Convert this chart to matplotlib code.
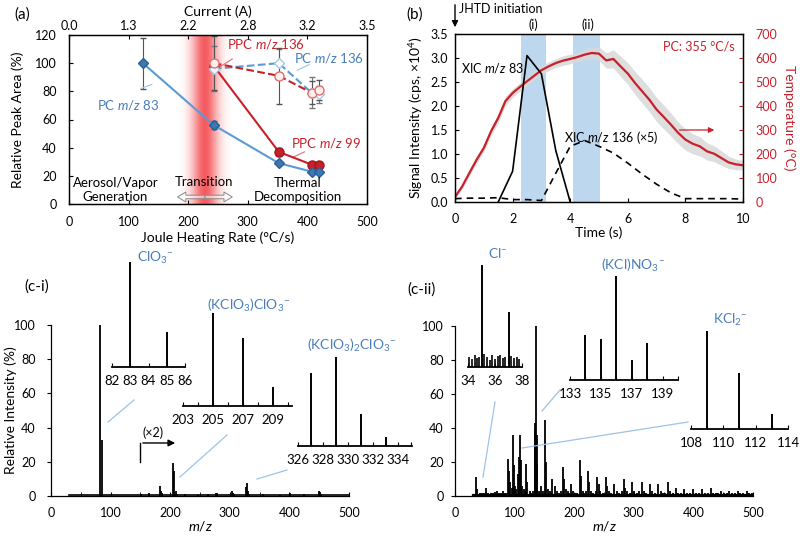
import numpy as np
import matplotlib.pyplot as plt
from matplotlib.patches import FancyArrow

plt.rcParams['font.family'] = ['Lato', 'DejaVu Sans']
plt.rcParams['font.size'] = 9
plt.rcParams['mathtext.fontset'] = 'custom'
plt.rcParams['mathtext.rm'] = 'Lato'
plt.rcParams['mathtext.it'] = 'Lato:italic'
plt.rcParams['mathtext.default'] = 'regular'
plt.rcParams['axes.linewidth'] = 0.9

# ---- (a) relative peak area vs Joule heating rate ----
rate_pc = [124, 243, 352, 407, 419]
pc83 = [100, 56, 29, 23, 22.5]
pc83_err = [18, 3, 1.5, 1, 1]
rate_ppc = [243, 352, 407, 419]
pc136 = [96, 100, 79, 78]
pc136_err = [16, 10, 11, 6]
ppc99 = [98, 37, 28, 27.5]
ppc99_err = [0, 3, 1.5, 1.5]
ppc136 = [100, 91, 79, 81]
ppc136_err = [19, 20, 8, 7]
rate_ticks = [0, 100, 200, 300, 400, 500]
current_labels = ['0.0', '1.3', '2.2', '2.8', '3.2', '3.5']

# ---- (b) XIC traces and temperature profile ----
t83 = [1.5, 2.0, 2.5, 3.0, 3.5, 4.0]
xic83 = [0, 0.64, 3.05, 2.67, 1.07, 0]
t136 = [0, 0.5, 1.0, 1.5, 2.0, 2.5, 3.0, 3.5, 4.0, 4.5, 5.0, 5.5, 6.0, 6.5,
        7.0, 7.5, 8.0, 8.5, 9.0, 9.5, 10.0]
xic136 = [0.07, 0.08, 0.08, 0.09, 0.05, 0.05, 0.03, 0.6, 1.16, 1.28, 1.16,
          1.02, 0.81, 0.58, 0.37, 0.19, 0.07, 0.07, 0.07, 0.07, 0.06]
t_temp = [0, 0.25, 0.5, 0.75, 1.0, 1.25, 1.5, 1.75, 2.0, 2.25, 2.5, 2.75,
          3.0, 3.25, 3.5, 3.75, 4.0, 4.25, 4.5, 4.75, 5.0, 5.25, 5.5, 5.75,
          6.0, 6.25, 6.5, 6.75, 7.0, 7.25, 7.5, 7.75, 8.0, 8.25, 8.5, 8.75,
          9.0, 9.25, 9.5, 9.75, 10.0]
temp = [21, 65, 121, 176, 225, 294, 350, 420, 454, 479, 503, 526,
        549, 565, 579, 589, 596, 604, 614, 621, 618, 590, 596, 565,
        535, 496, 461, 426, 385, 354, 322, 288, 260, 243, 232, 211,
        201, 183, 165, 157, 153]
temp_err = [8, 10, 12, 15, 15, 18, 20, 20, 18, 18, 18, 18, 18, 18, 18, 20,
            20, 20, 22, 25, 28, 32, 38, 42, 45, 48, 50, 50, 50, 50, 48, 45,
            44, 42, 40, 36, 33, 30, 26, 22, 20]

# ---- (c-i) spectrum at window (i) ----
mz_ci = [83, 85, 151, 165, 183, 185, 187, 205, 207, 209, 211, 225, 247,
         263, 277, 279, 303, 305, 307, 327, 329, 331, 333, 355, 385, 401,
         425, 449, 451, 453]
int_ci = [100, 33, 1, 1.5, 6, 3, 1.5, 19.5, 14.5, 3, 1, 1, 0.8,
          1, 2, 1.5, 3, 2, 1, 5, 7.5, 3, 1, 1, 0.8, 1.5,
          1, 3, 2.5, 1]
ins_clo3_mz = [83, 85]
ins_clo3_int = [1.0, 0.33]
ins_k1_mz = [205, 207, 209]
ins_k1_int = [1.0, 0.73, 0.2]
ins_k2_mz = [327, 329, 331, 333]
ins_k2_int = [0.82, 1.0, 0.36, 0.1]

# ---- (c-ii) spectrum at window (ii) ----
mz_cii = [35, 37, 52, 70, 80, 89, 91, 97, 99, 105, 107, 109, 111, 113, 119,
          121, 134, 135, 136, 137, 138, 145, 151, 153, 163, 167, 181, 183,
          195, 209, 211, 223, 225, 239, 241, 253, 255, 267, 283, 285, 297,
          313, 327, 341, 357, 371, 385, 399, 415, 429, 447, 460, 475, 490]
int_cii = [11, 4, 5, 3, 3, 22, 15, 36, 18, 13, 23, 36, 21, 6, 19,
           8, 43, 39, 100, 19, 36, 6, 45, 20, 10, 6, 17, 10,
           7, 21, 12, 15, 8, 11, 7, 11, 6, 7, 10, 5, 8,
           8, 7, 7, 8, 5, 4, 4, 4, 5, 3, 3, 3, 3]
mz_cii_minor = [42, 45, 48, 56, 60, 64, 67, 74, 77, 84, 87, 93, 95, 101, 103,
                115, 117, 125, 128, 131, 141, 143, 148, 156, 159, 161, 171,
                175, 178, 186, 189, 192, 198, 201, 205, 214, 217, 220, 228,
                232, 236, 244, 248, 258, 262, 271, 276, 280, 289, 293, 301,
                305, 309, 317, 321, 331, 335, 345, 349, 353, 361, 365, 375,
                380, 390, 394, 404, 409, 419, 424, 433, 438, 442, 451, 456,
                464, 469, 479, 484, 494, 498]
int_cii_minor = [2, 1.5, 2, 1.5, 2, 1.5, 2.5, 1.5, 2, 2, 1.5, 8, 5, 6, 4,
                 4, 3, 3, 2, 3, 3, 2, 3, 4, 3, 2, 3,
                 2, 3, 4, 3, 2, 3, 2, 2, 3, 2, 3, 3,
                 2, 3, 3, 2, 3, 2, 3, 2, 3, 3, 2, 3,
                 2, 3, 3, 2, 3, 2, 3, 2, 2, 3, 2, 2,
                 2, 2, 2, 2, 2, 2, 2, 2, 2, 2, 2, 2,
                 2, 2, 2, 2, 2, 2]
ins_cl_mz = [35, 37]
ins_cl_int = [1.0, 0.54]
ins_cl_noise_mz = [34.1, 34.3, 34.5, 34.7, 34.85, 35.2, 35.4, 35.6, 35.8,
                   36.0, 36.2, 36.4, 36.6, 36.75, 37.2, 37.4, 37.6, 37.8]
ins_cl_noise_int = [0.1, 0.08, 0.12, 0.09, 0.1, 0.13, 0.1, 0.07, 0.12,
                    0.08, 0.11, 0.12, 0.09, 0.1, 0.11, 0.09, 0.1, 0.08]
ins_no3_mz = [134, 135, 136, 137, 138]
ins_no3_int = [0.43, 0.39, 1.0, 0.19, 0.36]
ins_kcl2_mz = [109, 111, 113]
ins_kcl2_int = [1.0, 0.57, 0.15]

W, H = 800, 537
fig = plt.figure(figsize=(8, 5.37), dpi=100)

blue_line = '#5b9bd5'
blue_mark = '#3d78b5'
blue_txt = '#4a7ebb'
red = '#c8202a'
lead = '#9dc3e6'


def px_axes(left, right, bottom, top):
    return fig.add_axes([left / W, 1 - bottom / H, (right - left) / W,
                         (bottom - top) / H])


# ======================= panel (a) =======================
ax_a = px_axes(69, 367, 204, 35)
n = 300
gx = np.linspace(-1, 1, n)
band = np.zeros((1, n, 4))
band[..., 0] = 0.95
band[..., 1] = 0.25
band[..., 2] = 0.27
band[..., 3] = 0.85 * np.exp(-(gx / 0.5) ** 2)
ax_a.imshow(band, extent=[185, 272, 0, 120], aspect='auto', zorder=0)

ax_a.errorbar(rate_pc, pc83, yerr=pc83_err, fmt='none', ecolor='#555555',
              elinewidth=0.8, capsize=2, zorder=2)
ax_a.errorbar(rate_ppc, pc136, yerr=pc136_err, fmt='none', ecolor='#777777',
              elinewidth=0.8, capsize=2, zorder=2)
ax_a.errorbar(rate_ppc, ppc136, yerr=ppc136_err, fmt='none', ecolor='#555555',
              elinewidth=0.8, capsize=2, zorder=2)
ax_a.errorbar(rate_ppc, ppc99, yerr=ppc99_err, fmt='none', ecolor='#555555',
              elinewidth=0.8, capsize=2, zorder=2)

ax_a.plot(rate_ppc, ppc99, '-', color=red, lw=1.5, marker='o', ms=6.5,
          mfc=red, mec='#a01818', zorder=3)
ax_a.plot(rate_pc, pc83, '-', color=blue_line, lw=1.5, marker='D', ms=5.5,
          mfc=blue_mark, mec='#2d5f95', zorder=3)
ax_a.plot(rate_ppc, pc136, '--', color=blue_line, lw=1.5, marker='D',
          ms=5.5, mfc='white', mec='#a9c8e8', zorder=4)
ax_a.plot(rate_ppc, ppc136, '--', color=red, lw=1.5, marker='o', ms=6.5,
          mfc='#fff0f0', mec='#e07070', zorder=5)

ax_a.set_xlim(0, 500)
ax_a.set_ylim(0, 120)
ax_a.set_xticks(rate_ticks)
ax_a.set_yticks(range(0, 121, 20))
ax_a.tick_params(direction='in', length=3, pad=9)
ax_a.set_xlabel('Joule Heating Rate (°C/s)', fontsize=10, labelpad=2)
ax_a.set_ylabel('Relative Peak Area (%)', fontsize=10)
ax_a.yaxis.set_label_coords(-0.15, 0.5)

ax_top = ax_a.twiny()
ax_top.set_xlim(0, 500)
ax_top.set_xticks(rate_ticks)
ax_top.set_xticklabels(current_labels)
ax_top.tick_params(direction='in', length=3, pad=2)
ax_top.set_xlabel('Current (A)', fontsize=10, labelpad=3)

ax_a.text(99, 70, r'PC $\mathit{m/z}$ 83', color=blue_txt, ha='center',
          va='center', fontsize=9.5)
ax_a.plot([121, 139], [82, 85], color=lead, lw=0.8)
ax_a.text(331, 113.5, r'PPC $\mathit{m/z}$ 136', color=red, ha='center',
          va='center', fontsize=9.5)
ax_a.plot([252, 274], [97, 103], color='#e07070', lw=0.8)
ax_a.text(437, 103.5, r'PC $\mathit{m/z}$ 136', color=blue_txt, ha='center',
          va='center', fontsize=9.5)
ax_a.plot([383, 403], [95, 99], color=lead, lw=0.8)
ax_a.text(432, 43, r'PPC $\mathit{m/z}$ 99', color=red, ha='center',
          va='center', fontsize=9.5)
ax_a.plot([375, 395], [33, 37], color='#e07070', lw=0.8)

ax_a.text(78, 10, 'Aerosol/Vapor\nGeneration', ha='center', va='center',
          fontsize=9.5, linespacing=1.25)
ax_a.text(227, 15.6, 'Transition', ha='center', va='center', fontsize=9.5)
ax_a.text(384, 10, 'Thermal\nDecomposition', ha='center', va='center',
          fontsize=9.5, linespacing=1.25)
for x0, dx in [(228, -46), (228, 46)]:
    ax_a.add_patch(FancyArrow(x0, 5, dx, 0, width=2.5, head_width=7,
                              head_length=14, length_includes_head=True,
                              fc=(1, 1, 1, 0.55), ec='#8a8a8a', lw=0.7,
                              zorder=3))

# ======================= panel (b) =======================
ax_b = px_axes(455, 743, 202, 34)
ax_t = ax_b.twinx()
ax_b.set_zorder(ax_t.get_zorder() + 1)
ax_b.patch.set_visible(False)

ax_t.axvspan(2.3, 3.15, color='#bdd7ee', lw=0, zorder=0)
ax_t.axvspan(4.1, 5.05, color='#bdd7ee', lw=0, zorder=0)
lo = [v - e for v, e in zip(temp, temp_err)]
hi = [v + e for v, e in zip(temp, temp_err)]
ax_t.fill_between(t_temp, lo, hi, color='#d9d9d9', alpha=0.85, lw=0, zorder=1)
ax_t.plot(t_temp, temp, color=red, lw=1.6, zorder=2)
ax_t.set_ylim(0, 700)
ax_t.set_yticks(range(0, 701, 100))
ax_t.tick_params(direction='in', length=3, pad=9, colors=red)
ax_t.spines['right'].set_color('black')
ax_t.set_ylabel('Temperature (°C)', color=red, rotation=270, fontsize=10,
                labelpad=13)
ax_t.annotate('', xy=(9.1, 300), xytext=(7.7, 300),
              arrowprops=dict(arrowstyle='-|>', color=red, lw=0.9,
                              mutation_scale=8))

ax_b.plot(t83, xic83, '-', color='black', lw=1.2)
ax_b.plot(t136, xic136, '--', color='black', lw=1.2, dashes=(4, 3))
ax_b.set_xlim(0, 10)
ax_b.set_ylim(0, 3.5)
ax_b.set_xticks(range(0, 11, 2))
ax_b.set_yticks(np.arange(0, 3.51, 0.5))
ax_b.set_yticklabels(['%.1f' % v for v in np.arange(0, 3.51, 0.5)])
ax_b.tick_params(direction='in', length=3)
ax_b.tick_params(axis='x', pad=8)
ax_b.tick_params(axis='y', pad=5)
ax_b.set_xlabel('Time (s)', fontsize=10, labelpad=1)
ax_b.set_ylabel('Signal Intensity (cps, ×10$^4$)', fontsize=10, labelpad=4)
ax_b.text(0.2, 2.8, r'XIC $\mathit{m/z}$ 83', ha='left', va='center',
          fontsize=9)
ax_b.text(3.8, 1.35, r'XIC $\mathit{m/z}$ 136 (×5)', ha='left', va='center',
          fontsize=9)
ax_b.text(9.7, 3.23, 'PC: 355 °C/s', color=red, ha='right', va='center',
          fontsize=9)

# ======================= panel (c-i) =======================
ax_ci = px_axes(51, 349, 496, 325)
ax_ci.vlines(mz_ci, 0, int_ci, color='black', lw=1.3)
ax_ci.plot([30, 500], [0.5, 0.5], color='black', lw=1.2)
ax_ci.set_xlim(0, 500)
ax_ci.set_ylim(0, 100)
ax_ci.spines['top'].set_visible(False)
ax_ci.spines['right'].set_visible(False)
ax_ci.set_xticks(range(0, 501, 100))
ax_ci.set_xticks(range(0, 501, 50), minor=True)
ax_ci.set_yticks(range(0, 101, 20))
ax_ci.tick_params(axis='x', which='both', direction='in', length=3, pad=8)
ax_ci.tick_params(axis='y', direction='out', length=3, pad=8)
ax_ci.set_xlabel(r'$\mathit{m/z}$', fontsize=10, labelpad=0)
ax_ci.set_ylabel('Relative Intensity (%)', fontsize=10)
ax_ci.yaxis.set_label_coords(-0.115, 0.5)
ax_ci.plot([150, 150], [20, 31], color='black', lw=1)
ax_ci.annotate('', xy=(213, 31), xytext=(149.5, 31),
               arrowprops=dict(arrowstyle='-|>', color='black', lw=1,
                               mutation_scale=10))
ax_ci.text(172, 37, '(×2)', ha='center', va='center', fontsize=9)

# ======================= panel (c-ii) =======================
ax_cii = px_axes(455, 753, 496, 326)
ax_cii.vlines(mz_cii_minor, 0, int_cii_minor, color='black', lw=1.3)
ax_cii.vlines(mz_cii, 0, int_cii, color='black', lw=1.3)
ax_cii.plot([30, 500], [0.8, 0.8], color='black', lw=1.6)
ax_cii.set_xlim(0, 500)
ax_cii.set_ylim(0, 100)
ax_cii.spines['top'].set_visible(False)
ax_cii.spines['right'].set_visible(False)
ax_cii.set_xticks(range(0, 501, 100))
ax_cii.set_xticks(range(0, 501, 50), minor=True)
ax_cii.set_yticks(range(0, 101, 20))
ax_cii.tick_params(axis='x', which='both', direction='in', length=3, pad=8)
ax_cii.tick_params(axis='y', direction='out', length=3, pad=5)
ax_cii.set_xlabel(r'$\mathit{m/z}$', fontsize=10, labelpad=0)


# ======================= insets =======================
def inset(left, right, base, top, xlim, ticks, labels, mz, inten):
    ax = px_axes(left, right, base, top)
    ax.patch.set_visible(False)
    for s in ['top', 'right', 'left']:
        ax.spines[s].set_visible(False)
    ax.spines['bottom'].set_linewidth(1.3)
    ax.set_yticks([])
    ax.set_xlim(*xlim)
    ax.set_ylim(0, 1)
    ax.set_xticks(ticks)
    ax.set_xticklabels(labels)
    ax.tick_params(axis='x', direction='in', length=3, pad=6, labelsize=9.5)
    ax.vlines(mz, 0, inten, color='black', lw=1.4)
    return ax


inset(112, 185, 367, 262, (82, 86), [82, 83, 84, 85, 86],
      ['82', '83', '84', '85', '86'], ins_clo3_mz, ins_clo3_int)
inset(183, 292, 406, 313, (203, 210.3), [203, 204, 205, 206, 207, 208, 209, 210],
      ['203', '', '205', '', '207', '', '209', ''], ins_k1_mz, ins_k1_int)
inset(298, 412, 446, 357, (326, 335.1), [326, 327, 328, 329, 330, 331, 332, 333, 334, 335],
      ['326', '', '328', '', '330', '', '332', '', '334', ''], ins_k2_mz, ins_k2_int)
ax_cl = inset(468, 522, 367, 265, (34, 38), [34, 35, 36, 37, 38],
              ['34', '', '36', '', '38'], ins_cl_mz, ins_cl_int)
ax_cl.vlines(ins_cl_noise_mz, 0, ins_cl_noise_int, color='black', lw=1.2)
inset(570, 678, 380, 276, (133, 140), [133, 134, 135, 136, 137, 138, 139, 140],
      ['133', '', '135', '', '137', '', '139', ''], ins_no3_mz, ins_no3_int)
inset(691, 788, 429, 331, (108, 114), [108, 109, 110, 111, 112, 113, 114],
      ['108', '', '110', '', '112', '', '114'], ins_kcl2_mz, ins_kcl2_int)

# ======================= overlay: labels and leader lines =======================
ov = fig.add_axes([0, 0, 1, 1])
ov.set_xlim(0, W)
ov.set_ylim(H, 0)
ov.axis('off')

ov.text(22, 15, '(a)', ha='center', va='center', fontsize=11)
ov.text(415, 15, '(b)', ha='center', va='center', fontsize=11)
ov.text(37, 287, '(c-i)', ha='center', va='center', fontsize=11)
ov.text(422, 290, '(c-ii)', ha='center', va='center', fontsize=11)

ov.annotate('', xy=(455, 30), xytext=(455, 2),
            arrowprops=dict(arrowstyle='-|>', color='black', lw=1,
                            mutation_scale=9))
ov.text(459, 9, 'JHTD initiation', ha='left', va='center', fontsize=9)
ov.text(533, 25, '(i)', ha='center', va='center', fontsize=9)
ov.text(588, 25, '(ii)', ha='center', va='center', fontsize=9)

ov.text(155, 258, 'ClO$_3$$^{-}$', color=blue_txt, ha='center', va='center', fontsize=10)
ov.text(249, 305, '(KClO$_3$)ClO$_3$$^{-}$', color=blue_txt, ha='center',
        va='center', fontsize=10)
ov.text(352, 345, '(KClO$_3$)$_2$ClO$_3$$^{-}$', color=blue_txt, ha='center',
        va='center', fontsize=10)
ov.text(498, 253, 'Cl$^{-}$', color=blue_txt, ha='center', va='center', fontsize=10)
ov.text(633, 265, '(KCl)NO$_3$$^{-}$', color=blue_txt, ha='center', va='center',
        fontsize=10)
ov.text(730, 320, 'KCl$_2$$^{-}$', color=blue_txt, ha='center', va='center', fontsize=10)

for x0, y0, x1, y1 in [(108, 422, 134, 400), (180, 477, 227, 435),
                       (257, 479, 287, 470), (483, 477, 495, 402),
                       (542, 411, 560, 390), (522, 448, 688, 422)]:
    ov.plot([x0, x1], [y0, y1], color=lead, lw=0.9)

fig.savefig('out.png', dpi=100)
